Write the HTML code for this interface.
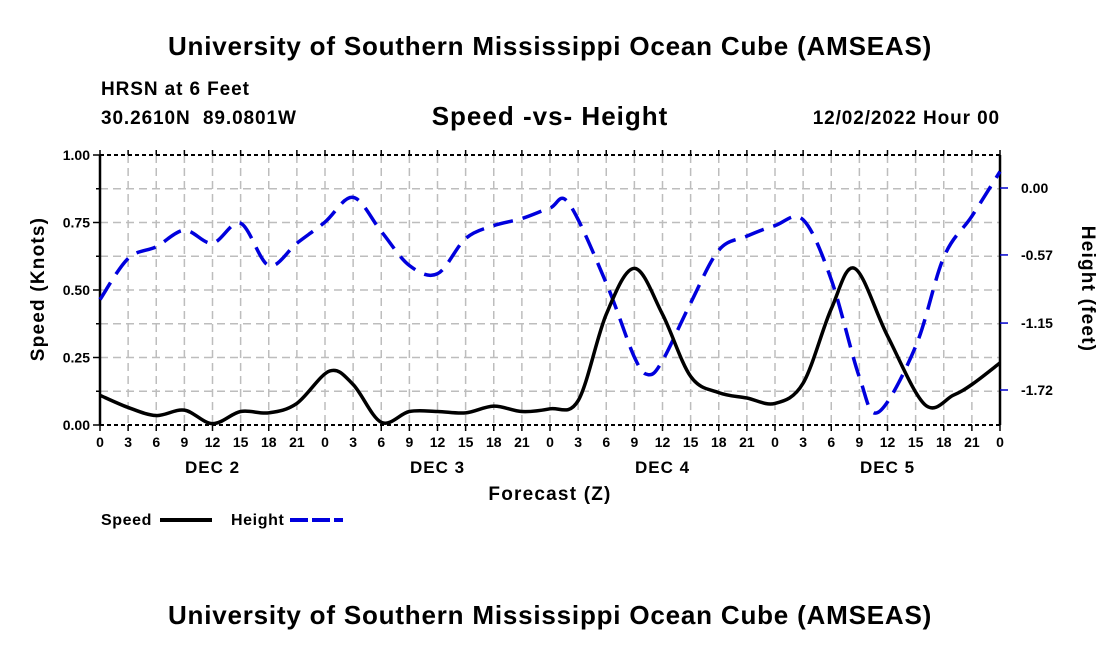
<!DOCTYPE html>
<html><head><meta charset="utf-8"><style>
body{margin:0;background:#fff;}
svg text{font-family:"Liberation Sans",Arial,sans-serif;font-weight:bold;fill:#000;}
</style></head><body>
<svg id="chart" width="1100" height="650" viewBox="0 0 1100 650" xmlns="http://www.w3.org/2000/svg">
<rect width="1100" height="650" fill="#fff"/>
<text x="550" y="55" font-size="26" letter-spacing="0.8" text-anchor="middle">University of Southern Mississippi Ocean Cube (AMSEAS)</text>
<text x="101" y="95" font-size="19" letter-spacing="0.9">HRSN at 6 Feet</text>
<text x="101" y="124" font-size="19" letter-spacing="0.9" xml:space="preserve">30.2610N  89.0801W</text>
<text x="550" y="125" font-size="26" letter-spacing="1" text-anchor="middle">Speed -vs- Height</text>
<text x="1000" y="124" font-size="19" letter-spacing="0.9" text-anchor="end">12/02/2022 Hour 00</text>
<g id="grid"></g>
<g id="axes"></g>
<g id="series"></g>
<text x="550" y="500" font-size="19" letter-spacing="1.2" text-anchor="middle">Forecast (Z)</text>
<text transform="translate(44,289) rotate(-90)" font-size="19" letter-spacing="1.2" text-anchor="middle">Speed (Knots)</text>
<text transform="translate(1082,289) rotate(90)" font-size="19" letter-spacing="1.2" text-anchor="middle">Height (feet)</text>
<g>
<text x="101" y="525" font-size="16" letter-spacing="0.6">Speed</text>
<line x1="160" y1="520" x2="212" y2="520" stroke="#000" stroke-width="4"/>
<text x="231" y="525" font-size="16" letter-spacing="0.6">Height</text>
<line x1="290" y1="520" x2="343" y2="520" stroke="#0000dd" stroke-width="4" stroke-dasharray="18,4"/>
</g>
<text x="550" y="624" font-size="26" letter-spacing="0.8" text-anchor="middle">University of Southern Mississippi Ocean Cube (AMSEAS)</text>
</svg>
<script>
const speedHours=[0,3,6,9,12,15,18,21,24.5,27,30,33,36,39,42,45,48,51,54,57,60,63,66,69,72,75,78,80.5,84,88,91,93,96];
const speedValues=[0.11,0.065,0.035,0.055,0.005,0.05,0.045,0.08,0.20,0.15,0.01,0.05,0.05,0.045,0.07,0.05,0.06,0.09,0.41,0.58,0.41,0.18,0.12,0.10,0.08,0.155,0.43,0.58,0.33,0.075,0.11,0.15,0.23];
const heightHours=[0,3,6,9,12,15,18,21,24,27,30,33,36,39,42,45,48,50,54,57,58.5,60,63,66,69,72,75,78,81,83,87,90,93,96];
const heightValues=[-0.95,-0.60,-0.50,-0.36,-0.47,-0.30,-0.66,-0.47,-0.29,-0.08,-0.37,-0.66,-0.73,-0.43,-0.32,-0.26,-0.17,-0.13,-0.81,-1.44,-1.59,-1.47,-0.98,-0.53,-0.41,-0.32,-0.27,-0.78,-1.61,-1.91,-1.35,-0.59,-0.24,0.14];
const leftTicks=["0.00","0.25","0.50","0.75","1.00"];
const rightTicks=["0.00","-0.57","-1.15","-1.72"];
const hourLabels=["0","3","6","9","12","15","18","21"];
const dayLabels=["DEC 2","DEC 3","DEC 4","DEC 5"];

const NS="http://www.w3.org/2000/svg";
const L=100,R=1000,T=155,B=425;
const xs=h=>L+(R-L)*h/96;
const ys=v=>B-(B-T)*v/1.0;
const yH=v=>188+(-v)*(202/1.72);
function mk(tag,attrs,parent){const e=document.createElementNS(NS,tag);for(const k in attrs)e.setAttribute(k,attrs[k]);parent.appendChild(e);return e;}
const grid=document.getElementById('grid'),axes=document.getElementById('axes'),series=document.getElementById('series');
for(let i=1;i<32;i++){const l=mk('line',{x1:xs(i*3),x2:xs(i*3),y1:T,y2:B,stroke:'#bdbdbd','stroke-width':1.5,'stroke-dasharray':'8,5'},grid);
}
for(let k=1;k<8;k++){const y=ys(k*0.125);const l=mk('line',{x1:L,x2:R,y1:y,y2:y,stroke:'#bdbdbd','stroke-width':1.5,'stroke-dasharray':'8,5'},grid);
}
mk('line',{x1:L,x2:L,y1:T,y2:B,stroke:'#000','stroke-width':2.5},axes);
mk('line',{x1:R,x2:R,y1:T,y2:B,stroke:'#000','stroke-width':2.5},axes);
mk('line',{x1:L,x2:R,y1:T,y2:T,stroke:'#000','stroke-width':2,'stroke-dasharray':'4,3'},axes);
mk('line',{x1:L,x2:R,y1:B,y2:B,stroke:'#000','stroke-width':2,'stroke-dasharray':'4,3'},axes);
for(let i=0;i<=32;i++){const x=xs(i*3);
mk('line',{x1:x,x2:x,y1:B,y2:B+6,stroke:'#000','stroke-width':1.5},axes);
mk('line',{x1:x,x2:x,y1:T,y2:T-5,stroke:'#000','stroke-width':1.5},axes);
const t=mk('text',{x:x,y:B+22,'font-size':14,'text-anchor':'middle'},axes);t.textContent=hourLabels[i%8];
}
dayLabels.forEach((d,i)=>{const t=mk('text',{x:xs(12+24*i),y:B+48,'font-size':17,'letter-spacing':1,'text-anchor':'middle'},axes);t.textContent=d;
});
for(let k=0;k<=8;k++){const y=ys(k*0.125);mk('line',{x1:L-(k%2?4:7),x2:L,y1:y,y2:y,stroke:'#000','stroke-width':1.5},axes);}
leftTicks.forEach((s,i)=>{const t=mk('text',{x:L-10,y:ys(i*0.25)+5,'font-size':14,'text-anchor':'end'},axes);t.textContent=s;
});
rightTicks.forEach((s,i)=>{const yy=yH(Number(s));
mk('line',{x1:R,x2:R+8,y1:yy,y2:yy,stroke:'#0000cc','stroke-width':1.5},axes);
const t=mk('text',{x:R+21,y:yy+5,'font-size':14},axes);t.textContent=s;
});
function smooth(px){let d='M'+px[0][0]+','+px[0][1];
for(let i=0;i<px.length-1;i++){const p0=px[Math.max(0,i-1)],p1=px[i],p2=px[i+1],p3=px[Math.min(px.length-1,i+2)];
const c1=[p1[0]+(p2[0]-p0[0])/6,p1[1]+(p2[1]-p0[1])/6],c2=[p2[0]-(p3[0]-p1[0])/6,p2[1]-(p3[1]-p1[1])/6];
d+=' C'+c1[0]+','+c1[1]+' '+c2[0]+','+c2[1]+' '+p2[0]+','+p2[1];}return d;}
const hp=mk('path',{d:smooth(heightHours.map((h,i)=>[xs(h),yH(heightValues[i])])),fill:'none',stroke:'#0000dd','stroke-width':3.5,'stroke-dasharray':'20,10'},series);

const sp=mk('path',{d:smooth(speedHours.map((h,i)=>[xs(h),ys(speedValues[i])])),fill:'none',stroke:'#000','stroke-width':3.5},series);

</script>
</body></html>
